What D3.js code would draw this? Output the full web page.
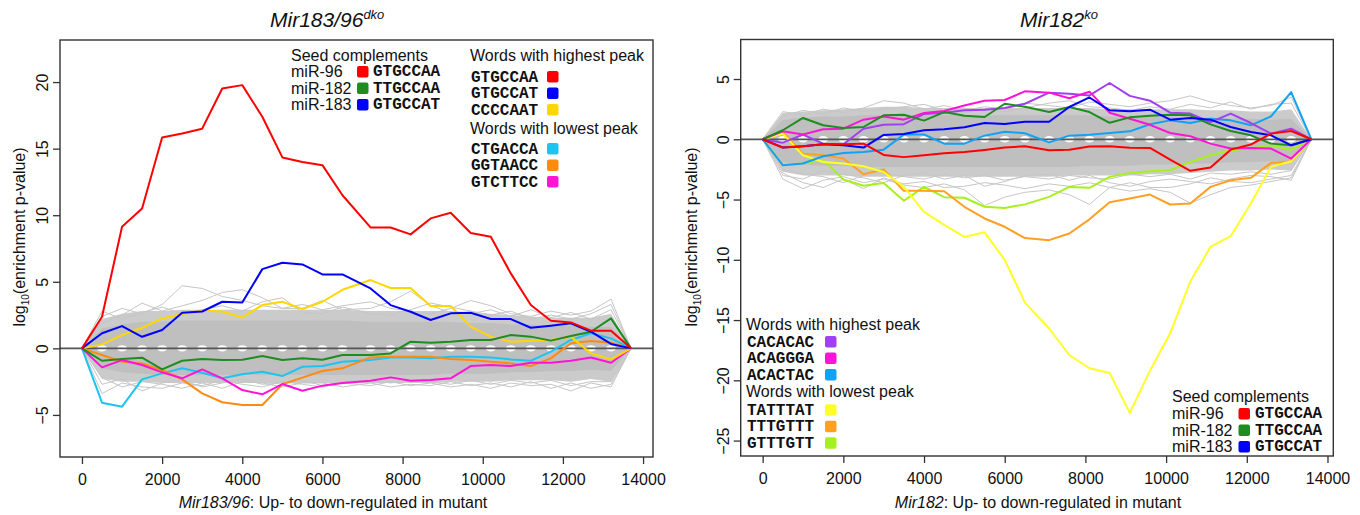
<!DOCTYPE html>
<html><head><meta charset="utf-8">
<script src="https://cdn.jsdelivr.net/npm/d3@7"></script>
<style>
html,body{margin:0;padding:0;background:#fff;}
svg{display:block;}
text{font-family:"Liberation Sans",Arial,sans-serif;fill:#111;}
.mono{font-family:"Liberation Mono","Courier New",monospace;font-weight:bold;}
</style></head><body>
<svg id="chart" width="1360" height="515"></svg>
<script>
// ---------------- DATA ----------------
const xTicks = [0,2000,4000,6000,8000,10000,12000,14000];
const yTicksLeft = [-5,0,5,10,15,20];
const yTicksRight = [-25,-20,-15,-10,-5,0,5];

const xLeft = [0,500,1000,1500,2000,2500,3000,3500,4000,4500,5000,5500,6000,6500,7200,7700,8200,8700,9200,9700,10200,10700,11200,11700,12200,12700,13200,13700];
const xRight = [0,500,1000,1500,2000,2500,3000,3500,4000,4500,5000,5500,6000,6500,7100,7600,8100,8600,9100,9600,10100,10600,11100,11600,12100,12600,13100,13600];

// left panel (Mir183/96 dko)
const L_red     = [0,2.37,9.13,10.5,15.84,16.14,16.5,19.52,19.77,17.4,14.34,14.0,13.76,11.5,9.08,9.08,8.56,9.76,10.18,8.66,8.38,5.63,3.25,2.07,1.95,1.33,1.33,0];
const L_green   = [0,-0.93,-0.8,-0.7,-1.58,-0.93,-0.8,-0.88,-0.85,-0.58,-0.88,-0.75,-0.85,-0.5,-0.5,-0.38,0.5,0.43,0.5,0.63,0.63,1.0,0.88,0.58,0.93,1.25,2.25,0];
const L_blue    = [0,1.13,1.67,0.87,1.38,2.67,2.77,3.5,3.45,5.95,6.43,6.3,5.55,5.55,4.5,3.25,2.75,2.13,2.63,2.68,2.2,2.2,1.55,1.7,1.88,1.25,0.33,0];
const L_gold    = [0,0.3,1.0,1.55,2.25,2.58,2.83,2.77,2.32,3.25,3.5,2.95,3.5,4.4,5.13,4.53,4.53,3.18,3.18,1.63,0.88,0.5,0.58,0.63,0.88,-0.38,-0.83,0];
const L_cyan    = [0,-4.08,-4.38,-2.33,-1.88,-1.5,-1.83,-2.25,-1.95,-1.75,-2.08,-1.38,-1.33,-1.0,-0.88,-0.68,-0.68,-0.75,-0.63,-0.63,-0.68,-0.83,-0.93,-0.25,0.63,1.13,0.75,0];
const L_orange  = [0,-0.5,-1.0,-1.13,-1.63,-2.33,-3.38,-4.05,-4.25,-4.25,-2.7,-2.2,-1.7,-1.5,-0.68,-0.63,-0.63,-0.63,-0.8,-0.88,-1.0,-1.13,-1.33,-0.75,0.38,0.55,0.43,0];
const L_magenta = [0,-1.43,-0.88,-1.25,-1.8,-2.25,-1.58,-2.25,-3.13,-3.45,-2.68,-3.18,-2.8,-2.6,-2.43,-2.18,-2.43,-2.38,-2.25,-1.33,-1.25,-1.33,-1.08,-1.08,-0.93,-0.68,-1.08,0];
// background words (dense band envelope + visible outliers)
const L_coreUp  = [0,1.5,1.8,2.0,2.0,2.1,2.1,2.1,2.1,2.1,2.1,2.1,2.1,2.1,2.0,2.0,2.0,2.0,2.0,1.9,1.9,1.8,1.8,1.7,1.7,1.6,1.6,0];
const L_coreLo  = [0,-1.5,-1.8,-1.9,-2.0,-2.0,-2.0,-2.0,-2.0,-2.0,-2.0,-2.0,-2.0,-2.0,-2.0,-2.0,-2.0,-2.0,-1.9,-1.9,-1.9,-1.8,-1.8,-1.7,-1.7,-1.6,-1.7,0];
const L_haloUp  = [0,2.2,2.6,2.8,2.8,2.9,2.9,2.9,2.9,2.9,2.9,2.9,2.9,2.9,2.8,2.8,2.8,2.8,2.8,2.7,2.6,2.5,2.4,2.3,2.3,2.3,2.6,0];
const L_haloLo  = [0,-2.3,-2.5,-2.5,-2.6,-2.6,-2.6,-2.6,-2.6,-2.6,-2.6,-2.6,-2.6,-2.6,-2.6,-2.6,-2.6,-2.6,-2.5,-2.5,-2.5,-2.4,-2.4,-2.4,-2.5,-2.3,-2.5,0];
const L_grayA = [0,2.4,3.0,2.6,3.3,4.7,4.5,3.9,3.6,3.2,3.0,3.3,2.9,3.2,3.5,3.0,2.8,2.6,3.0,3.6,3.2,2.6,2.4,2.8,2.5,2.8,3.7,0];
const L_grayB = [0,1.9,2.5,3.4,2.8,3.2,3.6,4.2,4.4,3.8,3.0,3.0,3.6,2.9,3.0,3.5,4.3,3.2,2.7,2.6,2.9,2.4,2.9,2.3,2.7,2.2,2.9,0];
const L_grayC = [0,2.8,2.2,2.7,3.1,2.6,2.9,3.2,2.8,3.5,3.8,2.7,2.6,3.1,2.6,2.5,2.9,3.4,3.1,2.8,2.5,2.8,2.2,2.5,2.2,2.6,3.3,0];
const L_grayD = [0,-3.4,-2.6,-2.9,-3.0,-2.6,-2.8,-2.4,-2.7,-2.9,-2.5,-2.7,-2.9,-2.6,-2.8,-2.5,-2.8,-2.6,-2.9,-2.7,-3.0,-2.6,-2.8,-2.7,-3.2,-2.6,-2.9,0];
const L_grayE = [0,-2.2,-2.9,-2.5,-2.7,-3.0,-2.6,-3.0,-2.5,-2.6,-2.9,-2.6,-2.6,-2.9,-2.6,-2.9,-2.7,-2.8,-2.5,-2.8,-2.6,-2.9,-2.5,-3.0,-2.6,-3.0,-2.7,0];
const L_grayF = [0,-2.7,-2.3,-3.2,-2.6,-2.4,-2.9,-2.6,-2.3,-2.7,-2.6,-2.4,-2.8,-2.5,-2.4,-2.6,-2.4,-2.5,-2.7,-2.4,-2.7,-2.4,-2.6,-2.4,-2.8,-2.5,-2.5,0];

// right panel (Mir182 ko)
const R_purple  = [0,-0.28,0.39,-0.36,-0.41,0.88,1.2,1.25,2.1,2.2,2.4,2.46,2.6,2.95,3.87,3.78,3.64,4.67,3.6,3.2,2.21,2.13,1.43,2.13,1.35,0.47,0.88,0];
const R_magenta = [0,0.66,0.39,0.83,0.88,1.63,1.9,1.63,2.18,2.35,2.8,3.2,3.26,3.98,3.87,3.4,3.95,2.2,1.71,1.2,0.52,0.25,-0.36,-0.77,-0.72,-0.77,-1.6,0];
const R_sky     = [0,-2.15,-2.01,-1.41,-1.13,-1.05,-0.86,0.39,0.4,-0.36,-0.36,0.3,0.63,0.5,-0.26,0.3,0.37,0.52,0.66,1.25,1.57,1.35,1.71,1.57,1.16,1.9,3.92,0];
const R_red     = [0,-0.69,-0.58,-0.41,-0.41,-0.36,-1.3,-1.48,-1.33,-1.16,-1.05,-0.88,-0.69,-0.58,-0.91,-0.86,-0.6,-0.58,-0.7,-0.72,-1.68,-2.62,-2.35,-0.86,-0.44,0.47,0.69,0];
const R_green   = [0,0.75,1.77,1.16,0.94,1.02,1.99,2.04,1.55,2.26,1.95,1.85,2.95,2.7,2.26,2.68,2.26,1.37,1.82,1.95,2.04,1.99,1.24,0.69,0.33,-0.36,-0.5,0];
const R_blue    = [0,-0.69,-0.58,-0.41,-0.5,-0.69,0.36,0.43,0.75,0.83,1.0,1.35,1.27,1.46,1.46,2.68,3.47,2.4,2.32,2.46,1.63,1.77,1.63,1.02,0.61,0.33,-0.5,0];
const R_yellow  = [0,0.47,-1.33,-1.88,-2.01,-2.24,-2.71,-3.95,-6.02,-7.1,-8.1,-7.72,-10.0,-13.55,-15.7,-17.9,-19.0,-19.4,-22.7,-19.2,-16.1,-11.8,-8.92,-8.04,-5.33,-2.29,-1.82,0];
const R_orange  = [0,0.6,-1.19,-1.33,-1.6,-2.9,-2.51,-4.28,-4.28,-4.31,-5.6,-6.57,-7.26,-8.2,-8.37,-7.82,-6.64,-5.23,-4.92,-4.59,-5.41,-5.33,-3.95,-3.4,-3.2,-1.96,-1.82,0];
const R_lime    = [0,-2.15,-2.01,-1.69,-3.34,-3.85,-3.62,-5.1,-3.95,-4.8,-4.85,-5.6,-5.7,-5.4,-4.78,-3.95,-4.03,-3.12,-2.79,-2.65,-2.57,-1.88,-1.33,-0.91,-0.77,-0.5,-0.86,0];
const R_coreUp  = [0,1.6,1.8,1.9,1.9,2.0,2.0,2.0,2.0,2.0,2.0,2.0,2.0,2.0,2.0,2.0,2.0,1.9,1.9,1.9,1.9,1.8,1.8,1.7,1.7,1.6,1.7,0];
const R_coreLo  = [0,-1.9,-2.1,-2.2,-2.2,-2.3,-2.3,-2.3,-2.3,-2.3,-2.3,-2.3,-2.3,-2.3,-2.3,-2.3,-2.2,-2.2,-2.2,-2.1,-2.1,-2.0,-2.0,-1.9,-1.9,-1.8,-1.9,0];
const R_haloUp  = [0,2.2,2.3,2.4,2.5,2.6,2.7,2.7,2.6,2.6,2.6,2.6,2.6,2.6,2.6,2.6,2.6,2.5,2.5,2.5,2.5,2.5,2.4,2.4,2.3,2.3,2.5,0];
const R_haloLo  = [0,-2.7,-3.0,-3.0,-3.0,-3.1,-3.1,-3.1,-3.1,-3.1,-3.1,-3.1,-3.1,-3.1,-3.1,-3.0,-3.0,-3.0,-3.0,-2.9,-2.9,-2.8,-2.7,-2.6,-2.6,-2.5,-2.6,0];
const R_grayA = [0,2.3,2.0,2.5,2.2,2.6,3.2,3.0,2.5,2.8,2.4,2.7,2.5,3.0,2.8,2.6,3.1,2.9,2.7,3.0,3.2,3.6,3.1,2.8,2.6,2.8,3.5,0];
const R_grayB = [0,1.9,2.4,2.1,2.6,2.3,2.5,2.7,2.9,2.4,2.2,2.5,2.3,2.6,3.0,3.2,2.7,2.6,2.4,2.7,2.5,2.9,2.6,3.1,2.5,2.9,3.0,0];
const R_grayC = [0,-3.3,-4.1,-3.4,-3.1,-3.6,-3.3,-3.8,-4.0,-3.7,-4.2,-5.5,-4.8,-4.4,-4.2,-4.6,-5.4,-4.0,-4.3,-4.1,-4.4,-5.3,-4.6,-4.0,-3.8,-3.5,-3.2,0];
const R_grayD = [0,-2.8,-3.6,-4.0,-3.3,-4.1,-3.2,-3.7,-3.5,-4.0,-3.9,-3.6,-3.8,-4.1,-3.7,-3.9,-3.6,-4.0,-3.6,-4.0,-4.0,-3.7,-3.2,-3.5,-3.6,-3.3,-3.0,0];
const R_grayE = [0,-2.5,-2.9,-3.1,-3.6,-3.0,-2.8,-3.1,-3.3,-2.9,-3.2,-3.0,-3.4,-3.1,-3.3,-3.0,-3.2,-3.3,-2.9,-3.1,-2.9,-3.3,-2.8,-2.9,-2.7,-2.9,-2.6,0];
const R_grayF = [0,-3.0,-3.3,-2.6,-2.9,-3.2,-3.6,-3.0,-2.8,-3.3,-3.0,-3.9,-3.5,-3.0,-2.9,-3.4,-3.0,-3.6,-3.9,-3.5,-3.3,-3.5,-3.7,-3.3,-3.0,-3.1,-3.4,0];

// legends
const seedNames = ["miR-96","miR-182","miR-183"];
const seedWords = ["GTGCCAA","TTGCCAA","GTGCCAT"];
const seedColors = ["#ff0000","#1e8c1e","#0000ff"];
const L_highWords = ["GTGCCAA","GTGCCAT","CCCCAAT"];
const L_highColors = ["#ff0000","#0000ff","#ffd700"];
const L_lowWords = ["CTGACCA","GGTAACC","GTCTTCC"];
const L_lowColors = ["#1ec4f0","#ff8a10","#ff14d6"];
const R_highWords = ["CACACAC","ACAGGGA","ACACTAC"];
const R_highColors = ["#a040f2","#ff14d6","#12a2f5"];
const R_lowWords = ["TATTTAT","TTTGTTT","GTTTGTT"];
const R_lowColors = ["#ffff26","#ffa020","#a6f01e"];

// ---------------- DRAWING ----------------
const svg = d3.select("#chart");
const FONT = 16;

function panel(cfg){
  const g = svg.append("g");
  const x = d3.scaleLinear().domain(cfg.xDom).range([cfg.left, cfg.right]);
  const y = d3.scaleLinear().domain(cfg.yDom).range([cfg.bottom, cfg.top]);
  const xs = cfg.xs;
  const clipId = "clip" + cfg.id;
  svg.append("clipPath").attr("id", clipId).append("rect")
    .attr("x", cfg.left).attr("y", cfg.top).attr("width", cfg.right-cfg.left).attr("height", cfg.bottom-cfg.top);
  const plot = g.append("g").attr("clip-path", `url(#${clipId})`);

  const area = (up, lo) => d3.area().x((d,i)=>x(xs[i])).y0((d,i)=>y(lo[i])).y1((d,i)=>y(up[i]))(up);
  plot.append("path").attr("d", area(cfg.haloUp, cfg.haloLo)).attr("fill", "#cbcbcb");
  const line = d3.line().x((d,i)=>x(xs[i])).y(d=>y(d));
  cfg.grays.forEach(s => plot.append("path").attr("d", line(s)).attr("fill","none")
      .attr("stroke","#c6c6c6").attr("stroke-width",1));
  plot.append("path").attr("d", area(cfg.coreUp, cfg.coreLo)).attr("fill", "#bfbfbf");
  // white gaps at each node near zero
  plot.selectAll("ellipse.gap").data(xs.slice(1, xs.length-1)).enter().append("ellipse")
    .attr("cx", d=>x(d)).attr("cy", y(0)).attr("rx", 5).attr("ry", 3.2).attr("fill", "#fff");
  // zero line
  plot.append("line").attr("x1", cfg.left).attr("x2", cfg.right).attr("y1", y(0)).attr("y2", y(0))
    .attr("stroke", "#555").attr("stroke-width", 1.8);
  cfg.series.forEach(s => plot.append("path").attr("d", line(s.v)).attr("fill","none")
      .attr("stroke", s.c).attr("stroke-width", 2).attr("stroke-linejoin","round"));

  // axes
  const xa = g.append("g").attr("transform", `translate(0,${cfg.bottom})`)
    .call(d3.axisBottom(x).tickValues(xTicks).tickFormat(d3.format("d")).tickSize(7).tickPadding(10));
  xa.select(".domain").remove();
  xa.selectAll("line").attr("stroke", "#333").attr("stroke-width", 1.3);
  xa.selectAll("text").attr("font-size", FONT).attr("fill", "#111")
    .attr("font-family", '"Liberation Sans",Arial,sans-serif');

  const ya = g.append("g").attr("transform", `translate(${cfg.left},0)`)
    .call(d3.axisLeft(y).tickValues(cfg.yTicks).tickFormat(d3.format("d")).tickSize(7));
  ya.select(".domain").remove();
  ya.selectAll("line").attr("stroke", "#333").attr("stroke-width", 1.3);
  ya.selectAll("text").attr("font-size", FONT).attr("fill", "#111")
    .attr("font-family", '"Liberation Sans",Arial,sans-serif')
    .attr("transform", "rotate(-90)").attr("x", 0).attr("y", -12).attr("dy", 0)
    .attr("text-anchor", "middle");

  // box
  g.append("rect").attr("x", cfg.left).attr("y", cfg.top).attr("width", cfg.right-cfg.left)
    .attr("height", cfg.bottom-cfg.top).attr("fill","none").attr("stroke","#333").attr("stroke-width",1.4);

  // title
  const t = g.append("text").attr("x", cfg.titleX).attr("y", 27).attr("font-size", 21).attr("font-style","italic");
  t.append("tspan").text(cfg.title);
  t.append("tspan").attr("font-size", 13).attr("dy", -8).text(cfg.titleSup);

  // x label
  const xl = g.append("text").attr("x", cfg.xlabX).attr("y", 508).attr("font-size", FONT).attr("text-anchor","middle");
  xl.append("tspan").attr("font-style","italic").text(cfg.xlabIt);
  xl.append("tspan").text(": Up- to down-regulated in mutant");

  // y label
  const yl = g.append("text").attr("transform", `translate(${cfg.ylabX},237) rotate(-90)`)
    .attr("font-size", FONT).attr("text-anchor","middle");
  yl.append("tspan").text("log");
  yl.append("tspan").attr("font-size", 10).attr("dy", 4).text("10");
  yl.append("tspan").attr("dy", -4).text("(enrichment p-value)");
  return g;
}

function seedLegend(g, x0, headBase, rowBase, sqX, wordX){
  g.append("text").attr("x", x0).attr("y", headBase).attr("font-size", FONT).text("Seed complements");
  seedNames.forEach((n,i)=>{
    const b = rowBase + i*16.5;
    g.append("text").attr("x", x0).attr("y", b).attr("font-size", FONT).text(n);
    g.append("rect").attr("x", sqX).attr("y", b-11).attr("width", 11.5).attr("height", 11.5)
      .attr("rx", 2).attr("fill", seedColors[i]);
    g.append("text").attr("class","mono").attr("x", wordX).attr("y", b-1).attr("font-size", FONT).text(seedWords[i]);
  });
}
function wordLegend(g, x0, headBase, sqX, highW, highC, lowW, lowC, gapA, gapB, gapC){
  g.append("text").attr("x", x0).attr("y", headBase).attr("font-size", FONT).text("Words with highest peak");
  highW.forEach((w,i)=>{
    const b = headBase + gapA + i*16.5;
    g.append("text").attr("class","mono").attr("x", x0+1).attr("y", b).attr("font-size", FONT).text(w);
    g.append("rect").attr("x", sqX).attr("y", b-10.5).attr("width", 11.5).attr("height", 11.5)
      .attr("rx", 2).attr("fill", highC[i]);
  });
  const h2 = headBase + gapA + 2*16.5 + gapB;
  g.append("text").attr("x", x0).attr("y", h2).attr("font-size", FONT).text("Words with lowest peak");
  lowW.forEach((w,i)=>{
    const b = h2 + gapC + i*16.5;
    g.append("text").attr("class","mono").attr("x", x0+1).attr("y", b).attr("font-size", FONT).text(w);
    g.append("rect").attr("x", sqX).attr("y", b-10.5).attr("width", 11.5).attr("height", 11.5)
      .attr("rx", 2).attr("fill", lowC[i]);
  });
}

const gL = panel({
  id:"L", left:60, right:653, top:40, bottom:457,
  xDom:[-548,14248], yDom:[-8.16,23.16], xs:xLeft, yTicks:yTicksLeft,
  coreUp:L_coreUp, coreLo:L_coreLo, haloUp:L_haloUp, haloLo:L_haloLo,
  grays:[L_grayA,L_grayB,L_grayC,L_grayD,L_grayE,L_grayF],
  series:[
    {v:L_cyan, c:L_lowColors[0]}, {v:L_orange, c:L_lowColors[1]}, {v:L_magenta, c:L_lowColors[2]},
    {v:L_gold, c:L_highColors[2]}, {v:L_green, c:seedColors[1]}, {v:L_blue, c:seedColors[2]}, {v:L_red, c:seedColors[0]}
  ],
  title:"Mir183/96", titleSup:"dko", titleX:270, xlabX:333, xlabIt:"Mir183/96", ylabX:25
});
seedLegend(gL, 291, 60.5, 77, 357, 373);
wordLegend(gL, 470, 60.5, 547, L_highWords, L_highColors, L_lowWords, L_lowColors, 21, 19, 20);

const gR = panel({
  id:"R", left:740.7, right:1333.3, top:39.5, bottom:456,
  xDom:[-544,14144], yDom:[-26.28,8.28], xs:xRight, yTicks:yTicksRight,
  coreUp:R_coreUp, coreLo:R_coreLo, haloUp:R_haloUp, haloLo:R_haloLo,
  grays:[R_grayA,R_grayB,R_grayC,R_grayD,R_grayE,R_grayF],
  series:[
    {v:R_lime, c:R_lowColors[2]}, {v:R_orange, c:R_lowColors[1]}, {v:R_yellow, c:R_lowColors[0]},
    {v:R_sky, c:R_highColors[2]}, {v:R_purple, c:R_highColors[0]}, {v:R_magenta, c:R_highColors[1]},
    {v:R_green, c:seedColors[1]}, {v:R_blue, c:seedColors[2]}, {v:R_red, c:seedColors[0]}
  ],
  title:"Mir182", titleSup:"ko", titleX:1020, xlabX:1038, xlabIt:"Mir182", ylabX:697
});
wordLegend(gR, 746, 329.5, 825, R_highWords, R_highColors, R_lowWords, R_lowColors, 17, 17, 18.3);
seedLegend(gR, 1172, 402, 419, 1238.5, 1255);
</script>
</body></html>
